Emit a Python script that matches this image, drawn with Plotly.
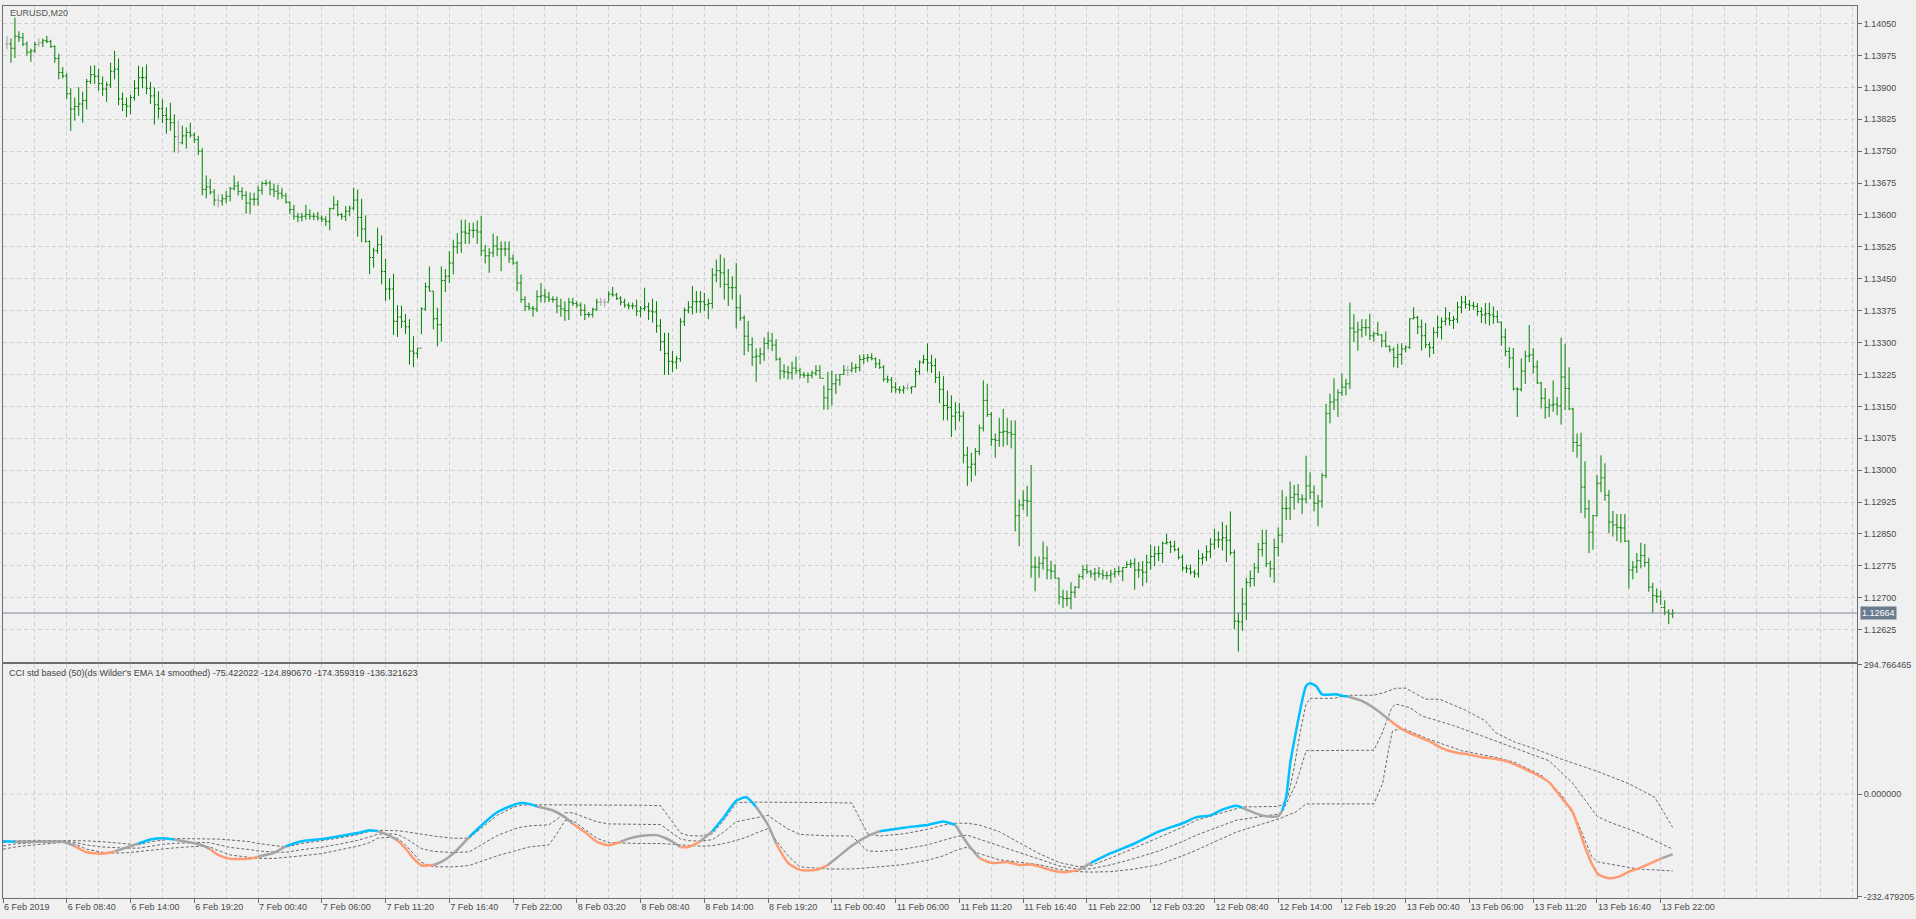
import plotly.graph_objects as go

# ---------------- price data (EURUSD M20), values in points (1e-5) ----------------
HIGH = [114021,114015,114064,114032,114028,114008,113991,114007,114015,114015,
114021,114012,113999,113979,113948,113934,113898,113876,113901,113890,
113920,113951,113952,113944,113926,113913,113958,113986,113968,113888,
113876,113883,113917,113951,113948,113954,113913,113900,113891,113872,
113853,113864,113837,113822,113810,113806,113817,113794,113786,113757,
113693,113685,113661,113649,113649,113656,113666,113693,113679,113665,
113656,113653,113652,113669,113679,113683,113681,113674,113671,113664,
113652,113632,113624,113605,113605,113624,113613,113605,113607,113599,
113597,113617,113644,113635,113605,113621,113622,113664,113660,113638,
113599,113540,113523,113570,113552,113497,113451,113462,113388,113387,
113367,113355,113315,113287,113383,113441,113479,113421,113382,113479,
113473,113515,113542,113557,113589,113589,113582,113582,113587,113598,
113530,113522,113556,113551,113538,113538,113538,113507,113491,113460,
113409,113394,113386,113423,113440,113426,113419,113409,113408,113403,
113397,113405,113405,113397,113394,113390,113372,113382,113403,113405,
113403,113421,113431,113417,113409,113403,113394,113394,113401,113386,
113429,113394,113403,113397,113355,113323,113323,113280,113269,113358,
113382,113397,113433,113421,113421,113417,113403,113475,113495,113507,
113499,113473,113456,113487,113413,113364,113351,113312,113286,113288,
113312,113325,113323,113308,113265,113249,113245,113255,113267,113241,
113231,113230,113234,113247,113247,113199,113231,113234,113226,113226,
113247,113246,113254,113250,113271,113273,113273,113275,113265,113261,
113247,113222,113219,113207,113197,113199,113204,113197,113240,113258,
113271,113298,113271,113263,113232,113221,113187,113176,113160,113158,
113138,113055,113041,113052,113107,113211,113203,113137,113086,113123,
113144,113123,113117,113117,112931,112952,112963,113012,112797,112797,
112832,112821,112787,112779,112747,112719,112717,112736,112727,112756,
112776,112779,112766,112770,112772,112766,112762,112766,112770,112774,
112772,112786,112790,112793,112784,112786,112801,112825,112821,112822,
112832,112850,112834,112834,112818,112801,112778,112778,112766,112813,
112805,112823,112840,112862,112856,112878,112871,112903,112813,112665,
112723,112747,112764,112782,112829,112860,112860,112787,112839,112865,
112953,112938,112973,112965,112967,112943,113034,112995,112964,112942,
112993,113156,113180,113216,113190,113227,113215,113394,113367,113349,
113355,113355,113368,113326,113349,113320,113326,113293,113289,113297,
113299,113293,113357,113383,113363,113354,113346,113302,113336,113363,
113359,113383,113372,113363,113396,113410,113410,113400,113396,113393,
113383,113393,113394,113385,113375,113349,113333,113289,113287,113195,
113263,113281,113341,113287,113258,113207,113193,113168,113211,113172,
113312,113297,113242,113146,113086,113088,113021,112930,112895,112989,
113035,113016,112953,112904,112897,112897,112897,112834,112786,112805,
112829,112826,112794,112735,112722,112717,112694,112673,112673]

LOW = [113989,113958,113969,114007,113997,113975,113960,113981,113995,113995,
114004,113993,113958,113919,113921,113873,113798,113822,113833,113817,
113848,113908,113908,113892,113880,113866,113899,113919,113858,113844,
113830,113837,113869,113880,113898,113884,113861,113813,113827,113816,
113791,113798,113747,113745,113766,113756,113782,113769,113741,113646,
113639,113648,113622,113618,113622,113628,113632,113658,113646,113636,
113603,113603,113622,113622,113648,113669,113646,113642,113636,113638,
113627,113602,113589,113583,113585,113589,113589,113588,113587,113583,
113574,113564,113613,113597,113589,113586,113597,113611,113549,113536,
113535,113461,113476,113509,113437,113398,113401,113318,113313,113334,
113320,113248,113242,113263,113320,113375,113421,113331,113291,113302,
113419,113440,113460,113509,113511,113532,113532,113546,113532,113503,
113486,113464,113501,113503,113468,113503,113487,113483,113421,113394,
113374,113376,113361,113372,113394,113394,113395,113394,113369,113361,
113351,113353,113386,113382,113362,113353,113359,113359,113374,113386,
113384,113397,113408,113400,113387,113382,113378,113378,113362,113359,
113374,113353,113347,113323,113280,113224,113224,113231,113238,113255,
113339,113369,113366,113370,113370,113374,113355,113380,113442,113429,
113401,113386,113401,113333,113351,113270,113278,113245,113208,113249,
113257,113284,113280,113257,113213,113216,113213,113213,113226,113216,
113216,113205,113216,113222,113216,113142,113142,113152,113179,113199,
113224,113221,113230,113229,113232,113250,113254,113258,113240,113238,
113208,113205,113182,113182,113180,113180,113187,113180,113195,113224,
113250,113232,113229,113205,113158,113117,113117,113078,113094,113115,
113016,112963,112973,112987,113035,113091,113125,113057,113029,113055,
113055,113059,113051,112856,112821,112906,112891,112747,112715,112747,
112766,112743,112743,112745,112684,112676,112680,112673,112700,112722,
112743,112756,112747,112740,112747,112743,112743,112735,112747,112753,
112739,112770,112770,112719,112747,112727,112735,112766,112774,112786,
112782,112825,112805,112809,112790,112762,112758,112754,112747,112747,
112778,112786,112793,112813,112817,112811,112784,112800,112626,112573,
112622,112647,112725,112727,112758,112797,112772,112748,112735,112797,
112829,112883,112883,112907,112922,112897,112922,112932,112903,112868,
112912,112981,113110,113141,113125,113174,113176,113191,113301,113281,
113312,113316,113306,113302,113316,113289,113289,113277,113242,113240,
113248,113277,113285,113355,113320,113281,113287,113265,113273,113312,
113307,113340,113340,113332,113346,113369,113380,113375,113377,113363,
113346,113344,113340,113344,113347,113293,113268,113240,113187,113125,
113185,113203,113254,113227,113203,113145,113121,113125,113137,113129,
113107,113141,113141,113043,113029,112899,112887,112805,112813,112891,
112948,112928,112852,112844,112833,112829,112831,112722,112743,112758,
112769,112772,112714,112665,112688,112683,112659,112638,112652]

CLOSE = [114002,113992,114020,114017,114002,113983,113986,114001,114005,114010,
114008,113996,113968,113935,113927,113885,113849,113855,113861,113869,
113914,113930,113926,113909,113896,113906,113938,113943,113873,113860,
113856,113876,113898,113923,113923,113898,113880,113859,113850,113834,
113825,113817,113784,113770,113786,113794,113788,113777,113750,113660,
113666,113654,113635,113633,113638,113644,113662,113668,113655,113646,
113628,113637,113637,113658,113674,113675,113660,113656,113651,113645,
113630,113613,113597,113595,113597,113601,113597,113597,113593,113590,
113585,113615,113624,113601,113597,113609,113616,113635,113594,113567,
113538,113500,113516,113530,113467,113426,113426,113350,113360,113350,
113337,113280,113275,113287,113379,113431,113421,113356,113342,113446,
113456,113487,113525,113534,113560,113557,113564,113564,113560,113516,
113504,113511,113527,113520,113520,113520,113497,113487,113440,113401,
113385,113381,113379,113408,113410,113407,113402,113401,113386,113379,
113375,113395,113392,113388,113376,113366,113366,113378,113395,113395,
113395,113414,113412,113404,113395,113388,113386,113386,113374,113380,
113384,113374,113372,113339,113302,113274,113256,113254,113262,113349,
113376,113383,113396,113396,113396,113389,113392,113459,113469,113464,
113437,113429,113429,113382,113358,113315,113295,113266,113268,113273,
113298,113304,113294,113261,113233,113231,113229,113240,113234,113224,
113223,113223,113228,113234,113216,113170,113190,113203,113212,113225,
113235,113235,113240,113241,113260,113263,113265,113262,113250,113242,
113214,113212,113195,113190,113188,113193,113193,113196,113232,113254,
113260,113252,113246,113218,113190,113152,113147,113127,113136,113127,
113035,113007,113014,113044,113099,113164,113131,113072,113070,113089,
113091,113088,113084,112893,112918,112929,112927,112772,112772,112781,
112793,112765,112762,112746,112702,112698,112698,112713,112725,112750,
112766,112761,112756,112758,112756,112752,112752,112756,112761,112762,
112771,112778,112780,112765,112765,112760,112783,112797,112803,112804,
112828,112830,112821,112813,112795,112770,112768,112760,112756,112792,
112795,112808,112826,112836,112836,112841,112835,112806,112645,112643,
112685,112736,112745,112770,112813,112828,112780,112768,112818,112847,
112910,112910,112936,112943,112932,112932,112963,112948,112922,112927,
112987,113133,113160,113165,113182,113195,113203,113334,113325,113330,
113335,113335,113316,113321,113318,113304,113291,113283,113265,113272,
113285,113289,113356,113359,113337,113316,113295,113288,113324,113336,
113350,113356,113352,113355,113383,113395,113390,113387,113385,113373,
113365,113368,113365,113361,113348,113313,113279,113264,113191,113190,
113233,113268,113271,113243,113205,113169,113147,113153,113155,113151,
113219,113192,113144,113065,113058,112960,112909,112854,112893,112969,
112982,112941,112878,112871,112865,112864,112833,112765,112772,112787,
112799,112783,112725,112705,112703,112677,112666,112662,112664]

DOJI_BARS = [1, 9, 44, 54, 150, 151, 212, 227]   # bars drawn in grey
LAST_PRICE = 1.12664

# time axis: bar index of each labelled tick and its label
TICK_K = [0, 16, 32, 48, 64, 80, 96, 112, 128, 144, 160, 176, 192, 208,
          224, 240, 256, 272, 288, 304, 320, 336, 352, 368, 384, 400, 416]
TICK_TEXT = ["6 Feb 2019", "6 Feb 08:40", "6 Feb 14:00", "6 Feb 19:20", "7 Feb 00:40",
             "7 Feb 06:00", "7 Feb 11:20", "7 Feb 16:40", "7 Feb 22:00", "8 Feb 03:20",
             "8 Feb 08:40", "8 Feb 14:00", "8 Feb 19:20", "11 Feb 00:40", "11 Feb 06:00",
             "11 Feb 11:20", "11 Feb 16:40", "11 Feb 22:00", "12 Feb 03:20", "12 Feb 08:40",
             "12 Feb 14:00", "12 Feb 19:20", "13 Feb 00:40", "13 Feb 06:00", "13 Feb 11:20",
             "13 Feb 16:40", "13 Feb 22:00"]

# ---------------- CCI indicator ----------------
CCI_K = [0, 3, 9, 15, 18, 21, 25, 28, 31, 34, 37, 40, 43, 46, 50, 52, 54, 57, 62, 64, 68, 71, 75, 80,
         84, 89, 92, 94, 97, 99, 101, 103, 105, 108, 110, 113, 117, 121, 124, 128, 130, 132, 134,
         138, 141, 143, 146, 149, 152, 155, 157, 160, 164, 166, 168, 170, 172, 175, 178, 181, 184,
         186.5, 189, 192, 194, 197, 200, 204, 207, 210, 213, 217, 220, 226, 232, 236, 239, 242, 245,
         248, 252, 255, 258, 261, 264, 267, 270, 273, 278, 284, 290, 296, 299.5, 303, 306, 309.5,
         311, 314.5, 317, 320, 321, 322, 323, 324.5, 326, 327, 328, 329.5, 331, 334.5, 336, 337.5,
         341, 344.5, 348, 351, 354.5, 358, 361, 364.5, 368, 371, 374.5, 378, 381, 384.5, 388, 391,
         393.7, 395.3, 397, 398.7, 400.3, 403, 405.3, 408, 410.3, 413.7, 416.2, 419]
CCI_V = [-107, -108, -108, -108, -118, -132, -135, -130, -121, -112, -103, -100, -103, -108, -116,
         -125, -138, -147, -146, -142, -133, -118, -107, -102, -96, -88, -82, -84, -94, -105, -123,
         -146, -162, -161, -154, -135, -97, -63, -41, -25, -20, -22, -28, -37, -52, -67, -86, -108,
         -116, -108, -101, -95, -93, -99, -108, -120, -120, -107, -84, -51, -15, -7, -29, -70, -112,
         -156, -172, -172, -161, -139, -117, -95, -84, -76, -70, -62, -70, -112, -145, -156, -154,
         -161, -160, -167, -175, -177, -172, -156, -134, -112, -85, -66, -52, -48, -35, -26, -31,
         -44, -50, -50, -37, -7, 69, 144, 212, 246, 252, 246, 227, 227, 224, 222, 212, 193, 168,
         148, 133, 120, 105, 95, 90, 84, 80, 73, 61, 46, 27, -7, -37, -75, -120, -158, -182, -191,
         -188, -176, -169, -156, -146, -136.321623]
CCI_STATE = ["b", "g", "g", "g", "o", "o", "o", "g", "g", "b", "b", "b", "g", "g", "g", "o", "o", "o",
             "o", "g", "g", "b", "b", "b", "b", "b", "b", "g", "g", "o", "o", "o", "o", "g", "g", "g",
             "b", "b", "b", "b", "b", "b", "g", "g", "g", "o", "o", "o", "o", "g", "g", "g", "g", "g",
             "g", "o", "o", "g", "b", "b", "b", "b", "g", "g", "o", "o", "o", "o", "g", "g", "g", "g",
             "b", "b", "b", "b", "g", "g", "o", "o", "o", "o", "o", "o", "o", "o", "g", "b", "b", "b",
             "b", "b", "b", "b", "b", "b", "g", "g", "g", "g", "b", "b", "b", "b", "b", "b", "b", "b",
             "b", "b", "b", "g", "g", "g", "o", "o", "o", "o", "o", "o", "o", "o", "o", "o", "o", "o",
             "o", "o", "o", "o", "o", "o", "o", "o", "o", "o", "o", "o", "g", "g", "g", "g"]

# floating levels (upper / middle / lower)
UP_K = [0, 3, 8, 15, 18, 21, 25, 28, 31, 34,
        37, 40, 43, 46, 50, 52, 54, 57, 62, 64,
        68, 71, 75, 80, 84, 89, 92, 94, 97, 99,
        101, 103, 105, 108, 113, 117, 121, 124, 128, 130,
        132, 137, 139, 141, 143, 146, 149, 152, 155, 160,
        165, 170, 172, 175, 178, 181, 184, 186.5, 189, 192,
        194, 197, 200, 204, 207, 213, 217, 220, 226, 232,
        236, 239, 242, 245, 250, 255, 260, 265, 270, 273,
        278, 284, 290, 296, 299.5, 309.5, 311, 319.5, 321, 322.5,
        324, 325.5, 327, 328, 334, 336, 338, 344, 346.5, 349.5,
        352, 357, 360.5, 367, 372, 374.5, 379.5, 384.5, 391, 399.5,
        408, 414.5, 419]
UP_V = [-110, -106, -105, -105, -105, -106, -108, -110, -112, -115,
        -108, -104, -101, -101, -101, -101, -102, -104, -108, -112,
        -117, -120, -112, -106, -100, -92, -84, -82, -82, -83,
        -85, -88, -92, -95, -100, -100, -70, -48, -30, -25,
        -24, -24, -24, -24, -25, -25, -25, -25, -25, -25,
        -26, -88, -94, -95, -90, -58, -20, -18, -18, -18,
        -18, -18, -18, -19, -19, -20, -90, -95, -90, -80,
        -70, -66, -66, -70, -85, -110, -135, -155, -165, -162,
        -145, -122, -98, -75, -59, -31.5, -29, -27.7, -25, -5,
        60, 140, 205, 218, 218, 222, 225, 225, 231, 241,
        241, 216, 216, 191, 167, 140, 118, 103, 80, 54,
        24, -7, -75.422022]

MID_K = [0, 3, 8, 15, 18, 21, 25, 28, 31, 34,
         37, 40, 43, 46, 50, 52, 54, 57, 62, 64,
         68, 71, 75, 80, 84, 89, 92, 94, 97, 99,
         101, 103, 105, 108, 113, 117, 121, 124, 128, 130,
         132, 137, 139, 141, 143, 146, 149, 152, 155, 160,
         165, 170, 172, 175, 178, 181, 184, 186.5, 189, 192,
         194, 197, 200, 204, 207, 213, 217, 220, 226, 232,
         236, 239, 242, 245, 250, 255, 260, 265, 270, 273,
         278, 284, 290, 296, 299.5, 309.5, 320.8, 324.5, 327, 344,
         346, 348.5, 349.5, 353, 356, 364, 371, 379, 388, 394,
         400, 403, 410, 419]
MID_V = [-117.5, -113, -110, -107.25, -109, -115.5, -120, -122, -122.5, -122.5,
         -117.5, -114, -111.5, -110.5, -109.5, -110.5, -115, -121, -126, -129,
         -131.5, -132, -126, -120.5, -114, -105, -97, -91, -90, -91.5,
         -100, -111.5, -123.5, -130, -132.5, -131, -110, -94, -80, -75,
         -72, -69.5, -57, -42, -42.5, -52.5, -62.5, -67.5, -68, -68.5,
         -69, -101.5, -105.5, -106.5, -103.5, -85, -62.5, -58, -53, -48,
         -61.5, -79, -91.5, -93.5, -94.5, -95, -129, -130, -125, -115,
         -105, -97, -93, -102.5, -117, -132.5, -147.5, -163, -170.5, -169.5,
         -160.5, -146, -129, -107.5, -93, -59, -44, 24, 99, 100,
         137, 197, 205, 197, 178, 156, 133, 106, 76, 24,
         -50, -63, -86, -124.89067]

LO_K = [0, 3, 8, 15, 18, 21, 25, 28, 31, 34,
        37, 40, 43, 46, 50, 52, 54, 57, 62, 64,
        68, 71, 75, 80, 84, 89, 92, 94, 97, 99,
        101, 103, 105, 108, 113, 117, 121, 124, 128, 130,
        132, 137, 139, 141, 143, 146, 149, 152, 155, 160,
        165, 170, 172, 175, 178, 181, 184, 186.5, 189, 192,
        194, 197, 200, 204, 207, 213, 217, 220, 226, 232,
        236, 239, 242, 245, 250, 255, 260, 265, 270, 273,
        278, 284, 290, 296, 299.5, 309.5, 320.3, 324.5, 327, 344,
        346.2, 347.8, 348.7, 351.2, 357.8, 366, 374.5, 379.5, 386.2, 391.2,
        395.3, 398.7, 400.2, 410.3, 419]
LO_V = [-125, -120, -115, -109.5, -113, -125, -132, -134, -133, -130,
        -127, -124, -122, -120, -118, -120, -128, -138, -144, -146,
        -146, -144, -140, -135, -128, -118, -110, -100, -98, -100,
        -115, -135, -155, -165, -165, -162, -150, -140, -130, -125,
        -120, -115, -90, -60, -60, -80, -100, -110, -111, -112,
        -112, -115, -117, -118, -117, -112, -105, -98, -88, -78,
        -105, -140, -165, -168, -170, -170, -168, -165, -160, -150,
        -140, -128, -120, -135, -149, -155, -160, -171, -176, -177,
        -176, -170, -160, -140, -127, -86, -55.6, -40, -22, -22,
        24, 106, 144, 150, 125, 99, 84, 72, 42, -2,
        -67, -142, -154, -170, -174.359319]

CCI_RANGE_LABELS = [294.766465, 0.0, -232.479205]

# ---------------- styling ----------------
BG = "#f0f0f0"
GRID = "#d0d0d0"
AXIS = "#6e6e6e"
TXT = "#4a4a4a"
GREEN = "#008000"
DOJI_C = "#a0a0a0"
C_UP = "#00bfff"
C_DN = "#ff9b70"
C_NEU = "#a4a4a4"
C_LVL = "#6a6a6a"
FONT = "Liberation Sans"

pt = 1e-5
n = len(HIGH)
bar_k = list(range(1, n + 1))
opens = [CLOSE[0]] + CLOSE[:-1]

fig = go.Figure()


def ohlc_subset(idx, color):
    return go.Ohlc(
        x=[bar_k[i] for i in idx],
        open=[opens[i] * pt for i in idx],
        high=[HIGH[i] * pt for i in idx],
        low=[LOW[i] * pt for i in idx],
        close=[CLOSE[i] * pt for i in idx],
        increasing=dict(line=dict(color=color, width=1)),
        decreasing=dict(line=dict(color=color, width=1)),
        tickwidth=0.4, showlegend=False, hoverinfo="skip",
        xaxis="x", yaxis="y")


normal_idx = [i for i in range(n) if bar_k[i] not in DOJI_BARS]
doji_idx = [i for i in range(n) if bar_k[i] in DOJI_BARS]
fig.add_trace(ohlc_subset(normal_idx, GREEN))
fig.add_trace(ohlc_subset(doji_idx, DOJI_C))

# level lines (dotted)
for kk, vv in ((UP_K, UP_V), (MID_K, MID_V), (LO_K, LO_V)):
    fig.add_trace(go.Scatter(x=kk, y=vv, mode="lines", xaxis="x2", yaxis="y2",
                             line=dict(color=C_LVL, width=1, dash="3px,2px"),
                             showlegend=False, hoverinfo="skip"))

# CCI coloured by state
colmap = {"b": C_UP, "o": C_DN, "g": C_NEU}
i = 0
m = len(CCI_K)
while i < m:
    j = i
    while j + 1 < m and CCI_STATE[j + 1] == CCI_STATE[i]:
        j += 1
    end = min(j + 1, m - 1)
    fig.add_trace(go.Scatter(x=CCI_K[i:end + 1], y=CCI_V[i:end + 1], mode="lines",
                             xaxis="x2", yaxis="y2",
                             line=dict(color=colmap[CCI_STATE[i]], width=2.5,
                                       shape="spline", smoothing=0.6),
                             showlegend=False, hoverinfo="skip"))
    i = j + 1

XR = [0, 465.25]
grid_k = list(range(0, 466, 8))
price_ticks = [round(1.12625 + 0.00075 * t, 5) for t in range(20)]

common_x = dict(range=XR, showline=True, linecolor=AXIS, linewidth=1, mirror=True,
                showgrid=True, gridcolor=GRID, griddash="4px,3px", gridwidth=1,
                zeroline=False, fixedrange=True)

fig.update_layout(
    width=1916, height=919,
    margin=dict(l=2, r=53, t=2, b=21, pad=0),
    paper_bgcolor=BG, plot_bgcolor=BG,
    font=dict(family=FONT, size=9, color=TXT),
    showlegend=False,
    xaxis=dict(**common_x, anchor="y", tickmode="array", tickvals=grid_k,
               showticklabels=False, ticks="", rangeslider=dict(visible=False)),
    xaxis2=dict(**common_x, anchor="y2", matches="x", tickmode="array", tickvals=TICK_K,
                ticktext=TICK_TEXT, ticks="outside", ticklen=4, tickcolor=AXIS,
                ticklabelposition="outside right",
                tickfont=dict(family=FONT, size=9, color=TXT),
                minor=dict(tickmode="array", tickvals=grid_k, showgrid=True, gridcolor=GRID,
                           griddash="4px,3px", ticks=""),
                rangeslider=dict(visible=False)),
    yaxis=dict(domain=[0.26507, 1.0], range=[1.125499, 1.140914], side="right",
               tickmode="array", tickvals=price_ticks, tickformat=".5f",
               ticks="outside", ticklen=4, tickcolor=AXIS,
               showline=True, linecolor=AXIS, mirror=True,
               showgrid=True, gridcolor=GRID, griddash="4px,3px", zeroline=False,
               tickfont=dict(family=FONT, size=9, color=TXT), fixedrange=True),
    yaxis2=dict(domain=[0.0, 0.26283], range=[-235.9, 297.0], side="right",
                tickmode="array", tickvals=CCI_RANGE_LABELS,
                ticktext=["%.6f" % v for v in CCI_RANGE_LABELS],
                ticks="outside", ticklen=4, tickcolor=AXIS,
                showline=True, linecolor=AXIS, mirror=True,
                showgrid=False, zeroline=False,
                tickfont=dict(family=FONT, size=9, color=TXT), fixedrange=True),
)

# zero grid line in the indicator window
fig.add_shape(type="line", xref="x2 domain", x0=0, x1=1, yref="y2", y0=0, y1=0,
              line=dict(color=GRID, width=1, dash="4px,3px"), layer="below")
# current price line
fig.add_shape(type="line", xref="x domain", x0=0, x1=1, yref="y", y0=LAST_PRICE, y1=LAST_PRICE,
              line=dict(color="#7d8a9a", width=1))
fig.add_annotation(xref="paper", x=1.0, xanchor="left", xshift=3, yref="y", y=LAST_PRICE,
                   text="%.5f" % LAST_PRICE, showarrow=False, bgcolor="#6b7b8e",
                   font=dict(family=FONT, size=9, color="white"), borderpad=1)

fig.add_annotation(xref="paper", yref="paper", x=0.0027, y=0.9922, xanchor="left",
                   yanchor="middle", text="EURUSD,M20", showarrow=False,
                   font=dict(family=FONT, size=9, color="#555555"))
fig.add_annotation(xref="paper", yref="paper", x=0.0019, y=0.2526, xanchor="left",
                   yanchor="middle",
                   text="CCI std based (50)(ds Wilder's EMA 14 smoothed) -75.422022 -124.890670 "
                        "-174.359319 -136.321623",
                   showarrow=False, font=dict(family=FONT, size=9, color="#444444"))

fig.write_html("out.html", config={"displayModeBar": False},
               post_script="document.body.style.margin='0';document.body.style.overflow='hidden';")
